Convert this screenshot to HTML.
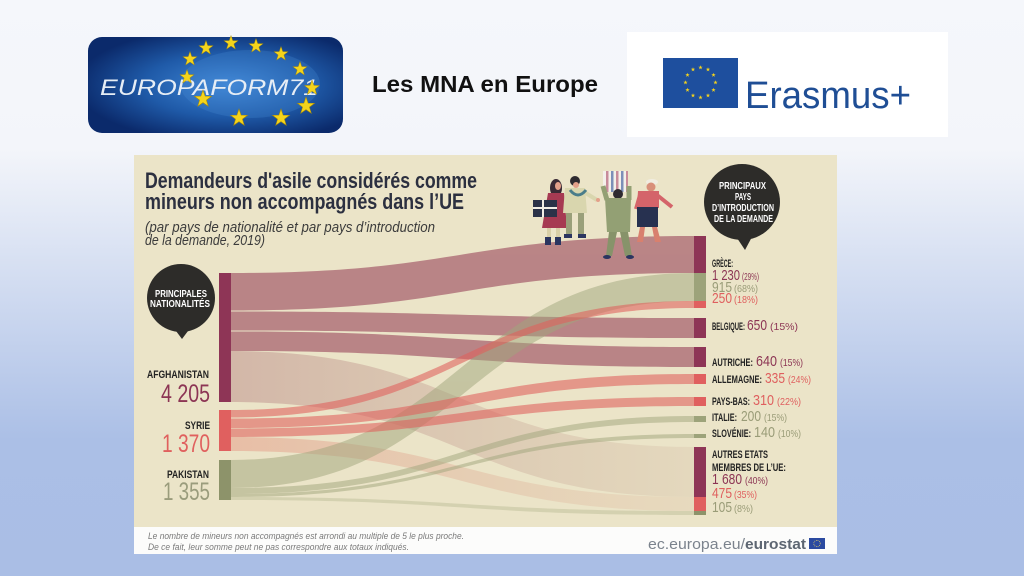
<!DOCTYPE html>
<html><head><meta charset="utf-8"><style>
html,body{margin:0;padding:0;}
body{width:1024px;height:576px;overflow:hidden;background:linear-gradient(180deg,#f5f7fb 0px,#f3f5fa 150px,#abbfe6 440px,#aabee5 576px);}
svg{display:block;}
.c{font-family:"Liberation Sans Narrow","Liberation Sans",sans-serif;font-weight:bold;}
.n{font-family:"Liberation Sans Narrow","Liberation Sans",sans-serif;}
</style></head><body>
<svg width="1024" height="576" viewBox="0 0 1024 576" xmlns="http://www.w3.org/2000/svg">
<defs>
<polygon id="star" points="0,-1 0.235,-0.324 0.951,-0.309 0.38,0.124 0.588,0.809 0,0.4 -0.588,0.809 -0.38,0.124 -0.951,-0.309 -0.235,-0.324"/>
<radialGradient id="lg" cx="0.55" cy="0.5" r="0.6">
<stop offset="0" stop-color="#3f86d6"/><stop offset="0.55" stop-color="#1f5aa8"/><stop offset="1" stop-color="#0b2a6b"/>
</radialGradient>
<linearGradient id="fa" x1="0" x2="1" y1="0" y2="0"><stop offset="0" stop-color="#a35f6a" stop-opacity="0.34"/><stop offset="1" stop-color="#b08070" stop-opacity="0.12"/></linearGradient>
<linearGradient id="fs" x1="0" x2="1" y1="0" y2="0"><stop offset="0" stop-color="#e27a6a" stop-opacity="0.36"/><stop offset="1" stop-color="#d09a80" stop-opacity="0.14"/></linearGradient>
</defs>

<!-- Europaform logo -->
<rect x="88" y="37" width="255" height="96" rx="14" fill="url(#lg)"/>
<ellipse cx="250" cy="84" rx="70" ry="34" fill="#4a8ed8" opacity="0.25"/>
<text x="100" y="95" font-family="Liberation Sans, sans-serif" font-style="italic" font-size="22" fill="#e6edf5" textLength="218" lengthAdjust="spacingAndGlyphs">EUROPAFORM71</text>
<g fill="#f4d41c" stroke="#a88a08" stroke-width="0.06">
<use href="#star" transform="translate(206,48) scale(7.5)"/>
<use href="#star" transform="translate(231,43) scale(7.5)"/>
<use href="#star" transform="translate(256,46) scale(7.5)"/>
<use href="#star" transform="translate(281,54) scale(7.5)"/>
<use href="#star" transform="translate(300,69) scale(7.5)"/>
<use href="#star" transform="translate(312,88) scale(8)"/>
<use href="#star" transform="translate(306,106) scale(9)"/>
<use href="#star" transform="translate(281,118) scale(9)"/>
<use href="#star" transform="translate(239,118) scale(9)"/>
<use href="#star" transform="translate(203,99) scale(9)"/>
<use href="#star" transform="translate(187,77) scale(7.5)"/>
<use href="#star" transform="translate(190,59) scale(7.5)"/>
</g>

<!-- Title -->
<text x="372" y="92" font-family="Liberation Sans, sans-serif" font-weight="bold" font-size="23.5" fill="#111" textLength="226" lengthAdjust="spacingAndGlyphs">Les MNA en Europe</text>

<!-- Erasmus logo -->
<rect x="627" y="32" width="321" height="105" fill="#ffffff"/>
<rect x="663" y="58" width="75" height="50" fill="#1e4f9e"/>
<g fill="#f2d21e">
<use href="#star" transform="translate(700.5,67.5) scale(2.3)"/>
<use href="#star" transform="translate(708,69.5) scale(2.3)"/>
<use href="#star" transform="translate(713.5,75) scale(2.3)"/>
<use href="#star" transform="translate(715.5,82.5) scale(2.3)"/>
<use href="#star" transform="translate(713.5,90) scale(2.3)"/>
<use href="#star" transform="translate(708,95.5) scale(2.3)"/>
<use href="#star" transform="translate(700.5,97.5) scale(2.3)"/>
<use href="#star" transform="translate(693,95.5) scale(2.3)"/>
<use href="#star" transform="translate(687.5,90) scale(2.3)"/>
<use href="#star" transform="translate(685.5,82.5) scale(2.3)"/>
<use href="#star" transform="translate(687.5,75) scale(2.3)"/>
<use href="#star" transform="translate(693,69.5) scale(2.3)"/>
</g>
<text x="745" y="108" font-family="Liberation Sans, sans-serif" font-size="38" fill="#1f4e95" textLength="166" lengthAdjust="spacingAndGlyphs">Erasmus+</text>

<!-- Infographic panel -->
<rect x="134" y="155" width="703" height="372" fill="#ebe4c8"/>
<rect x="134" y="527" width="703" height="27" fill="#fcfcfb"/>

<!-- Infographic title -->
<text x="145" y="188" class="c" font-size="22" fill="#2c3040" textLength="332" lengthAdjust="spacingAndGlyphs">Demandeurs d'asile considérés comme</text>
<text x="145" y="209" class="c" font-size="22" fill="#2c3040" textLength="319" lengthAdjust="spacingAndGlyphs">mineurs non accompagnés dans l’UE</text>
<text x="145" y="232" class="n" font-style="italic" font-size="15" fill="#3c3c3c" textLength="290" lengthAdjust="spacingAndGlyphs">(par pays de nationalité et par pays d’introduction</text>
<text x="145" y="245" class="n" font-style="italic" font-size="15" fill="#3c3c3c" textLength="120" lengthAdjust="spacingAndGlyphs">de la demande, 2019)</text>

<!-- Flows: Autres (faint) -->
<path d="M231,351 C462.5,351 462.5,447 694,447 L694,497 C462.5,497 462.5,402 231,402 Z" fill="url(#fa)"/>
<path d="M231,437 C462.5,437 462.5,497 694,497 L694,511 C462.5,511 462.5,451 231,451 Z" fill="url(#fs)"/>
<path d="M231,497 C462.5,497 462.5,511 694,511 L694,515 C462.5,515 462.5,500 231,500 Z" fill="#a0a57c" opacity="0.3"/>

<!-- Afghanistan flows -->
<g fill="#9c4a5e" opacity="0.62">
<path d="M231,273 C462.5,273 462.5,236 694,236 L694,273 C462.5,273 462.5,310.5 231,310.5 Z"/>
<path d="M231,311.5 C462.5,311.5 462.5,318 694,318 L694,338 C462.5,338 462.5,330.5 231,330.5 Z"/>
<path d="M231,331.5 C462.5,331.5 462.5,347 694,347 L694,367 C462.5,367 462.5,351 231,351 Z"/>
</g>

<!-- Pakistan flows -->
<g fill="#a0a57c" opacity="0.5">
<path d="M231,460 C462.5,460 462.5,273 694,273 L694,301 C462.5,301 462.5,488 231,488 Z"/>
<path d="M231,488 C462.5,488 462.5,416 694,416 L694,422 C462.5,422 462.5,494 231,494 Z"/>
<path d="M231,494 C462.5,494 462.5,434 694,434 L694,438 C462.5,438 462.5,497 231,497 Z"/>
</g>

<!-- Syria flows -->
<g fill="#e0605c" opacity="0.58">
<path d="M231,410 C462.5,410 462.5,301 694,301 L694,308 C462.5,308 462.5,417.5 231,417.5 Z"/>
<path d="M231,418.5 C462.5,418.5 462.5,374 694,374 L694,384 C462.5,384 462.5,428 231,428 Z"/>
<path d="M231,428.5 C462.5,428.5 462.5,397 694,397 L694,406 C462.5,406 462.5,437 231,437 Z"/>
</g>

<!-- Left bars -->
<rect x="219" y="273" width="12" height="129" fill="#8e3556"/>
<rect x="219" y="410" width="12" height="41" fill="#e0605f"/>
<rect x="219" y="460" width="12" height="40" fill="#8d936a"/>

<!-- Right bars -->
<rect x="694" y="236" width="12" height="37" fill="#8e3556"/>
<rect x="694" y="273" width="12" height="28" fill="#9da37a"/>
<rect x="694" y="301" width="12" height="7" fill="#e0605f"/>
<rect x="694" y="318" width="12" height="20" fill="#8e3556"/>
<rect x="694" y="347" width="12" height="20" fill="#8e3556"/>
<rect x="694" y="374" width="12" height="10" fill="#e0605f"/>
<rect x="694" y="397" width="12" height="9" fill="#e0605f"/>
<rect x="694" y="416" width="12" height="6" fill="#9da37a"/>
<rect x="694" y="434" width="12" height="4" fill="#9da37a"/>
<rect x="694" y="447" width="12" height="50" fill="#8e3556"/>
<rect x="694" y="497" width="12" height="14" fill="#e0605f"/>
<rect x="694" y="511" width="12" height="4" fill="#8d936a"/>

<!-- People -->
<g>
<ellipse cx="556" cy="188" rx="6" ry="9" fill="#3a2a35"/>
<ellipse cx="558" cy="186" rx="3" ry="4" fill="#e3a08a"/>
<polygon points="548,193 564,193 567,228 542,228" fill="#a63a52"/>
<rect x="547" y="228" width="4" height="10" fill="#d8cfa8"/>
<rect x="556" y="228" width="4" height="10" fill="#d8cfa8"/>
<rect x="545" y="237" width="6" height="8" fill="#2b3560"/>
<rect x="555" y="237" width="6" height="8" fill="#2b3560"/>
<rect x="533" y="200" width="24" height="17" fill="#2b3248"/>
<rect x="542" y="200" width="2" height="17" fill="#f2eee6"/>
<rect x="533" y="207" width="24" height="2" fill="#f2eee6"/>
<ellipse cx="575" cy="181" rx="5" ry="5" fill="#2e2a30"/>
<ellipse cx="576" cy="185" rx="3" ry="3" fill="#e3a08a"/>
<polygon points="565,188 585,188 587,213 563,213" fill="#d9d6ae"/>
<line x1="584" y1="192" x2="597" y2="200" stroke="#d9d6ae" stroke-width="4"/>
<circle cx="598" cy="200" r="2" fill="#e3a08a"/>
<path d="M570,190 Q578,200 586,190" stroke="#4a7d8a" stroke-width="3" fill="none"/>
<rect x="566" y="213" width="6" height="22" fill="#9aa07a"/>
<rect x="578" y="213" width="6" height="22" fill="#9aa07a"/>
<rect x="564" y="234" width="8" height="4" fill="#2b3560"/>
<rect x="578" y="234" width="8" height="4" fill="#2b3560"/>
<rect x="603" y="171" width="25" height="21" fill="#f4f0ea"/>
<rect x="606" y="171" width="2.5" height="21" fill="#c88b9a"/>
<rect x="611" y="171" width="2.5" height="21" fill="#7c8fb8"/>
<rect x="616" y="171" width="2.5" height="21" fill="#c88b9a"/>
<rect x="621" y="171" width="2.5" height="21" fill="#7c8fb8"/>
<rect x="626" y="171" width="2" height="21" fill="#c88b9a"/>
<line x1="607" y1="200" x2="603" y2="186" stroke="#93a074" stroke-width="5"/>
<line x1="629" y1="200" x2="629" y2="186" stroke="#93a074" stroke-width="5"/>
<circle cx="618" cy="194" r="5" fill="#2e2a30"/>
<polygon points="605,198 631,198 630,232 607,232" fill="#93a074"/>
<polygon points="609,232 617,232 612,256 606,256" fill="#87936a"/>
<polygon points="620,232 628,232 632,256 625,256" fill="#87936a"/>
<ellipse cx="607" cy="257" rx="4" ry="2" fill="#2b3560"/>
<ellipse cx="630" cy="257" rx="4" ry="2" fill="#2b3560"/>
<ellipse cx="652" cy="182" rx="6" ry="3" fill="#f0ece0"/>
<circle cx="651" cy="187" r="4.5" fill="#d88f7a"/>
<polygon points="638,191 659,191 659,208 637,208" fill="#d4646a"/>
<line x1="657" y1="195" x2="672" y2="207" stroke="#d4646a" stroke-width="4"/>
<line x1="640" y1="195" x2="636" y2="209" stroke="#d4646a" stroke-width="4"/>
<rect x="637" y="207" width="21" height="20" fill="#273150"/>
<polygon points="640,227 645,227 643,242 637,242" fill="#d8806e"/>
<polygon points="652,227 657,227 661,242 655,242" fill="#d8806e"/>
</g>

<!-- Bubbles -->
<circle cx="181" cy="298" r="34" fill="#2d2c29"/>
<polygon points="173,327 191,327 182,339" fill="#2d2c29"/>
<text x="155" y="297" class="c" font-size="10.5" fill="#fff" textLength="52" lengthAdjust="spacingAndGlyphs">PRINCIPALES</text>
<text x="150" y="307" class="c" font-size="10.5" fill="#fff" textLength="60" lengthAdjust="spacingAndGlyphs">NATIONALITÉS</text>

<circle cx="742" cy="202" r="38" fill="#2d2c29"/>
<polygon points="735,235 753,235 745,250" fill="#2d2c29"/>
<text x="719" y="189" class="c" font-size="10.5" fill="#fff" textLength="47" lengthAdjust="spacingAndGlyphs">PRINCIPAUX</text>
<text x="735" y="200" class="c" font-size="10.5" fill="#fff" textLength="16" lengthAdjust="spacingAndGlyphs">PAYS</text>
<text x="712" y="211" class="c" font-size="10.5" fill="#fff" textLength="62" lengthAdjust="spacingAndGlyphs">D’INTRODUCTION</text>
<text x="714" y="222" class="c" font-size="10.5" fill="#fff" textLength="59" lengthAdjust="spacingAndGlyphs">DE LA DEMANDE</text>

<!-- Left labels -->
<text x="147" y="378" class="c" font-size="11" fill="#222" textLength="62" lengthAdjust="spacingAndGlyphs">AFGHANISTAN</text>
<text x="161" y="402" class="n" font-size="25" fill="#8c3554" textLength="49" lengthAdjust="spacingAndGlyphs">4 205</text>
<text x="185" y="429" class="c" font-size="11" fill="#222" textLength="25" lengthAdjust="spacingAndGlyphs">SYRIE</text>
<text x="162" y="452" class="n" font-size="25" fill="#e0605e" textLength="48" lengthAdjust="spacingAndGlyphs">1 370</text>
<text x="167" y="478" class="c" font-size="11" fill="#222" textLength="42" lengthAdjust="spacingAndGlyphs">PAKISTAN</text>
<text x="163" y="500" class="n" font-size="25" fill="#9a9c7c" textLength="47" lengthAdjust="spacingAndGlyphs">1 355</text>

<!-- Right labels -->
<g font-family="Liberation Sans Narrow, Liberation Sans, sans-serif">
<text x="712" y="267" font-weight="bold" font-size="11" fill="#222" textLength="21" lengthAdjust="spacingAndGlyphs">GRÈCE:</text>
<text x="712" y="280" font-size="15" fill="#8c3554" textLength="28" lengthAdjust="spacingAndGlyphs">1 230</text>
<text x="742" y="280" font-size="10.5" fill="#8c3554" textLength="17" lengthAdjust="spacingAndGlyphs">(29%)</text>
<text x="712" y="292" font-size="15" fill="#9a9c78" textLength="20" lengthAdjust="spacingAndGlyphs">915</text>
<text x="734" y="292" font-size="10.5" fill="#9a9c78" textLength="24" lengthAdjust="spacingAndGlyphs">(68%)</text>
<text x="712" y="303" font-size="15" fill="#df5f5e" textLength="20" lengthAdjust="spacingAndGlyphs">250</text>
<text x="734" y="303" font-size="10.5" fill="#df5f5e" textLength="24" lengthAdjust="spacingAndGlyphs">(18%)</text>

<text x="712" y="330" font-weight="bold" font-size="11" fill="#222" textLength="33" lengthAdjust="spacingAndGlyphs">BELGIQUE:</text>
<text x="747" y="330" font-size="15" fill="#8c3554" textLength="20" lengthAdjust="spacingAndGlyphs">650</text>
<text x="770" y="330" font-size="10.5" fill="#8c3554" textLength="28" lengthAdjust="spacingAndGlyphs">(15%)</text>

<text x="712" y="366" font-weight="bold" font-size="11" fill="#222" textLength="41" lengthAdjust="spacingAndGlyphs">AUTRICHE:</text>
<text x="756" y="366" font-size="15" fill="#8c3554" textLength="21" lengthAdjust="spacingAndGlyphs">640</text>
<text x="780" y="366" font-size="10.5" fill="#8c3554" textLength="23" lengthAdjust="spacingAndGlyphs">(15%)</text>

<text x="712" y="383" font-weight="bold" font-size="11" fill="#222" textLength="50" lengthAdjust="spacingAndGlyphs">ALLEMAGNE:</text>
<text x="765" y="383" font-size="15" fill="#df5f5e" textLength="20" lengthAdjust="spacingAndGlyphs">335</text>
<text x="788" y="383" font-size="10.5" fill="#df5f5e" textLength="23" lengthAdjust="spacingAndGlyphs">(24%)</text>

<text x="712" y="405" font-weight="bold" font-size="11" fill="#222" textLength="38" lengthAdjust="spacingAndGlyphs">PAYS-BAS:</text>
<text x="753" y="405" font-size="15" fill="#df5f5e" textLength="21" lengthAdjust="spacingAndGlyphs">310</text>
<text x="777" y="405" font-size="10.5" fill="#df5f5e" textLength="24" lengthAdjust="spacingAndGlyphs">(22%)</text>

<text x="712" y="421" font-weight="bold" font-size="11" fill="#222" textLength="25" lengthAdjust="spacingAndGlyphs">ITALIE:</text>
<text x="741" y="421" font-size="15" fill="#9a9c78" textLength="20" lengthAdjust="spacingAndGlyphs">200</text>
<text x="764" y="421" font-size="10.5" fill="#9a9c78" textLength="23" lengthAdjust="spacingAndGlyphs">(15%)</text>

<text x="712" y="437" font-weight="bold" font-size="11" fill="#222" textLength="39" lengthAdjust="spacingAndGlyphs">SLOVÉNIE:</text>
<text x="754" y="437" font-size="15" fill="#9a9c78" textLength="21" lengthAdjust="spacingAndGlyphs">140</text>
<text x="778" y="437" font-size="10.5" fill="#9a9c78" textLength="23" lengthAdjust="spacingAndGlyphs">(10%)</text>

<text x="712" y="458" font-weight="bold" font-size="11" fill="#222" textLength="56" lengthAdjust="spacingAndGlyphs">AUTRES ETATS</text>
<text x="712" y="471" font-weight="bold" font-size="11" fill="#222" textLength="74" lengthAdjust="spacingAndGlyphs">MEMBRES DE L’UE:</text>
<text x="712" y="484" font-size="15" fill="#8c3554" textLength="30" lengthAdjust="spacingAndGlyphs">1 680</text>
<text x="745" y="484" font-size="10.5" fill="#8c3554" textLength="23" lengthAdjust="spacingAndGlyphs">(40%)</text>
<text x="712" y="498" font-size="15" fill="#df5f5e" textLength="20" lengthAdjust="spacingAndGlyphs">475</text>
<text x="734" y="498" font-size="10.5" fill="#df5f5e" textLength="23" lengthAdjust="spacingAndGlyphs">(35%)</text>
<text x="712" y="512" font-size="15" fill="#9a9c78" textLength="20" lengthAdjust="spacingAndGlyphs">105</text>
<text x="734" y="512" font-size="10.5" fill="#9a9c78" textLength="19" lengthAdjust="spacingAndGlyphs">(8%)</text>
</g>

<!-- Footer -->
<text x="148" y="539" class="n" font-style="italic" font-size="9.5" fill="#7a7a7a" textLength="316" lengthAdjust="spacingAndGlyphs">Le nombre de mineurs non accompagnés est arrondi au multiple de 5 le plus proche.</text>
<text x="148" y="550" class="n" font-style="italic" font-size="9.5" fill="#7a7a7a" textLength="261" lengthAdjust="spacingAndGlyphs">De ce fait, leur somme peut ne pas correspondre aux totaux indiqués.</text>
<text x="648" y="549" font-family="Liberation Sans, sans-serif" font-size="15" fill="#7b838d" textLength="97" lengthAdjust="spacingAndGlyphs">ec.europa.eu/</text>
<text x="745" y="549" font-family="Liberation Sans, sans-serif" font-weight="bold" font-size="15" fill="#5d6672" textLength="61" lengthAdjust="spacingAndGlyphs">eurostat</text>
<rect x="809" y="538" width="16" height="11" fill="#2b4aa0"/>
<circle cx="817" cy="543.5" r="3.2" fill="none" stroke="#e8d36a" stroke-width="0.8" stroke-dasharray="0.8 0.9"/>
</svg>
</body></html>
